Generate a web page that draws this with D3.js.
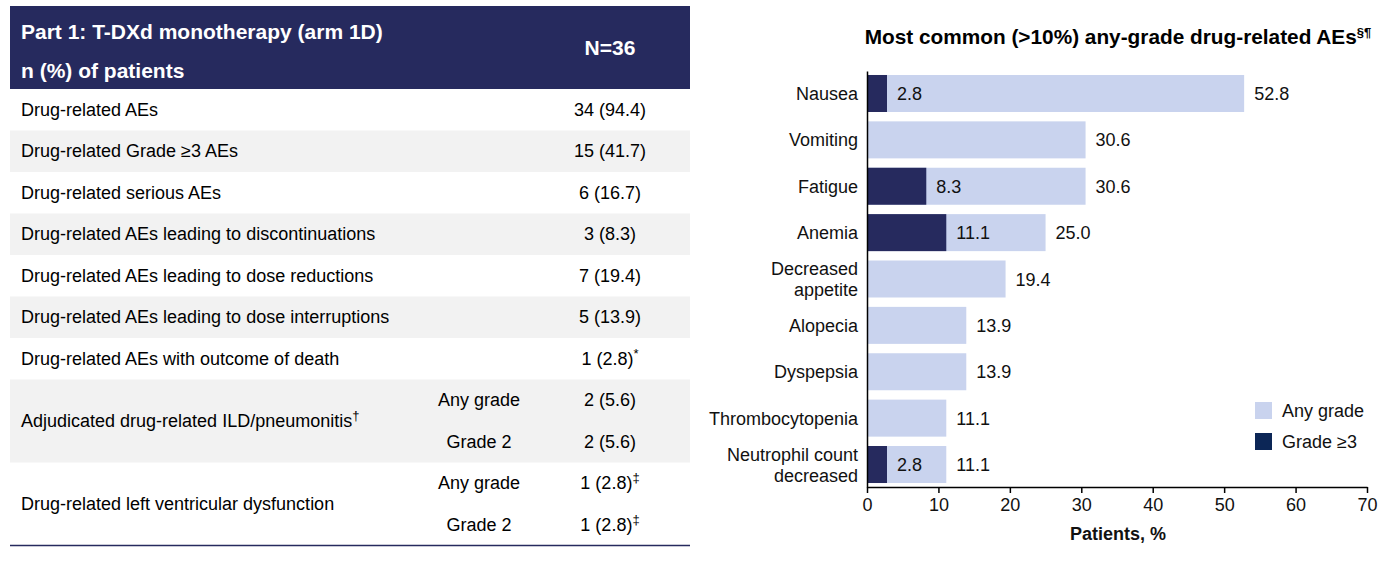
<!DOCTYPE html>
<html>
<head>
<meta charset="utf-8">
<script src="https://cdn.jsdelivr.net/npm/d3@7"></script>
<style>
  html, body { margin: 0; padding: 0; background: #fff; }
  svg { display: block; font-family: "Liberation Sans", Arial, sans-serif; }
</style>
</head>
<body>
<svg id="chart" width="1389" height="562"></svg>
<script>
// ---------- Table data ----------
const tableTitle = ["Part 1: T-DXd monotherapy (arm 1D)", "n (%) of patients"];
const tableN = "N=36";
const rowLabels = [
  "Drug-related AEs",
  "Drug-related Grade ≥3 AEs",
  "Drug-related serious AEs",
  "Drug-related AEs leading to discontinuations",
  "Drug-related AEs leading to dose reductions",
  "Drug-related AEs leading to dose interruptions",
  "Drug-related AEs with outcome of death",
  "Adjudicated drug-related ILD/pneumonitis",
  "Drug-related left ventricular dysfunction"
];
const rowLabelSups = ["", "", "", "", "", "", "", "†", ""];
const rowSubLabels = [[], [], [], [], [], [], [], ["Any grade", "Grade 2"], ["Any grade", "Grade 2"]];
const rowValues = [
  ["34 (94.4)"], ["15 (41.7)"], ["6 (16.7)"], ["3 (8.3)"], ["7 (19.4)"],
  ["5 (13.9)"], ["1 (2.8)"], ["2 (5.6)", "2 (5.6)"], ["1 (2.8)", "1 (2.8)"]
];
const rowValueSups = [[""], [""], [""], [""], [""], [""], ["*"], ["", ""], ["‡", "‡"]];

// ---------- Chart data ----------
const chartTitle = "Most common (>10%) any-grade drug-related AEs";
const chartTitleSup = "§¶";
const categories = ["Nausea", "Vomiting", "Fatigue", "Anemia", "Decreased\nappetite", "Alopecia", "Dyspepsia", "Thrombocytopenia", "Neutrophil count\ndecreased"];
const anyGrade = [52.8, 30.6, 30.6, 25.0, 19.4, 13.9, 13.9, 11.1, 11.1];
const grade3 = [2.8, 0, 8.3, 11.1, 0, 0, 0, 0, 2.8];
const xTicks = [0, 10, 20, 30, 40, 50, 60, 70];
const xLabel = "Patients, %";
const legendLabels = ["Any grade", "Grade ≥3"];

// ---------- Styles ----------
const NAVY = "#262a5e";
const LIGHT = "#c9d3ee";
const LEGEND_DARK = "#0c2656";
const GRAY = "#f2f2f2";

const svg = d3.select("#chart");

// ================= TABLE =================
const tX0 = 10, tX1 = 690, headTop = 6, headBottom = 89, lineH = 41.5;
const labelX = 21, subX = 479, valX = 610;
const bodyFS = 18;
const headFS = 21;

svg.append("rect").attr("x", tX0).attr("y", headTop).attr("width", tX1 - tX0).attr("height", headBottom - headTop).attr("fill", NAVY);
svg.append("text").attr("x", labelX).attr("y", 39).attr("fill", "#fff").attr("font-weight", "bold").attr("font-size", headFS).text(tableTitle[0]);
svg.append("text").attr("x", labelX).attr("y", 78).attr("fill", "#fff").attr("font-weight", "bold").attr("font-size", headFS).text(tableTitle[1]);
svg.append("text").attr("x", valX).attr("y", 55).attr("fill", "#fff").attr("font-weight", "bold").attr("font-size", headFS).attr("text-anchor", "middle").text(tableN);

let yCur = headBottom;
rowLabels.forEach((lab, i) => {
  const nLines = Math.max(1, rowValues[i].length);
  const h = nLines * lineH;
  if (i % 2 === 1) {
    svg.append("rect").attr("x", tX0).attr("y", yCur).attr("width", tX1 - tX0).attr("height", h).attr("fill", GRAY);
  }
  const cy = yCur + h / 2;
  const t = svg.append("text").attr("x", labelX).attr("y", cy + 6).attr("font-size", bodyFS).attr("fill", "#000");
  t.append("tspan").text(lab);
  if (rowLabelSups[i]) t.append("tspan").attr("font-size", 13).attr("dy", -7).text(rowLabelSups[i]);
  for (let k = 0; k < nLines; k++) {
    const ly = yCur + lineH * k + lineH / 2 + 6;
    if (rowSubLabels[i][k]) {
      svg.append("text").attr("x", subX).attr("y", ly).attr("font-size", bodyFS).attr("text-anchor", "middle").attr("fill", "#000").text(rowSubLabels[i][k]);
    }
    const vt = svg.append("text").attr("x", valX).attr("y", ly).attr("font-size", bodyFS).attr("text-anchor", "middle").attr("fill", "#000");
    vt.append("tspan").text(rowValues[i][k]);
    if (rowValueSups[i][k]) vt.append("tspan").attr("font-size", 13).attr("dy", -7).text(rowValueSups[i][k]);
  }
  yCur += h;
});
svg.append("line").attr("x1", tX0).attr("x2", tX1).attr("y1", yCur).attr("y2", yCur).attr("stroke", NAVY).attr("stroke-width", 1.5);

// ================= CHART =================
const x = d3.scaleLinear().domain([0, 70]).range([867, 1367]);
const y = d3.scaleBand().domain(categories).range([71, 487]).paddingInner(0.202).paddingOuter(0.086);

// title
const tt = svg.append("text").attr("x", 1118).attr("y", 44).attr("text-anchor", "middle").attr("font-weight", "bold").attr("font-size", 20.8).attr("fill", "#000");
tt.append("tspan").text(chartTitle);
tt.append("tspan").attr("font-size", 13).attr("dy", -7).text(chartTitleSup);

const data = categories.map((c, i) => ({ cat: c, any: anyGrade[i], g3: grade3[i] }));

// light bars
svg.append("g").selectAll("rect").data(data).join("rect")
  .attr("x", x(0)).attr("y", d => y(d.cat))
  .attr("width", d => x(d.any) - x(0)).attr("height", y.bandwidth())
  .attr("fill", LIGHT);
// dark bars
svg.append("g").selectAll("rect").data(data.filter(d => d.g3 > 0)).join("rect")
  .attr("x", x(0)).attr("y", d => y(d.cat))
  .attr("width", d => x(d.g3) - x(0)).attr("height", y.bandwidth())
  .attr("fill", NAVY);

// value labels
const lblFS = 18;
svg.append("g").selectAll("text").data(data).join("text")
  .attr("x", d => x(d.any) + 10).attr("y", d => y(d.cat) + y.bandwidth() / 2 + 6.5)
  .attr("font-size", lblFS).attr("fill", "#111").text(d => d.any.toFixed(1));
svg.append("g").selectAll("text").data(data.filter(d => d.g3 > 0)).join("text")
  .attr("x", d => x(d.g3) + 10).attr("y", d => y(d.cat) + y.bandwidth() / 2 + 6.5)
  .attr("font-size", lblFS).attr("fill", "#111").text(d => d.g3.toFixed(1));

// y category labels
const yl = svg.append("g").selectAll("text").data(categories).join("text")
  .attr("x", 858).attr("text-anchor", "end").attr("font-size", lblFS).attr("fill", "#111")
  .attr("y", d => y(d) + y.bandwidth() / 2 + 6.5);
yl.each(function (d) {
  const parts = d.split("\n");
  const el = d3.select(this);
  const cy = y(d) + y.bandwidth() / 2;
  if (parts.length === 1) { el.text(d); return; }
  parts.forEach((p, k) => {
    el.append("tspan").attr("x", 858).attr("y", cy + 6.5 + (k - (parts.length - 1) / 2) * 21).text(p);
  });
});

// x axis
const xAxis = d3.axisBottom(x).tickValues(xTicks).tickSize(6).tickSizeOuter(0).tickPadding(5);
const gx = svg.append("g").attr("transform", "translate(0,487)").call(xAxis);
gx.select(".domain").attr("stroke", "#000").attr("stroke-width", 1.5);
gx.selectAll(".tick line").attr("stroke", "#000").attr("stroke-width", 1.5);
gx.selectAll(".tick text").attr("font-size", 18).attr("fill", "#111").attr("font-family", "Liberation Sans, Arial, sans-serif");

// y axis line
const yAxis = d3.axisLeft(y).tickSize(0).tickFormat("").tickSizeOuter(0);
const gy = svg.append("g").attr("transform", "translate(867,0)").call(yAxis);
gy.select(".domain").attr("stroke", "#000").attr("stroke-width", 1.5);

svg.append("text").attr("x", 1118).attr("y", 540).attr("text-anchor", "middle").attr("font-weight", "bold").attr("font-size", 18).attr("fill", "#111").text(xLabel);

// legend
const legColors = [LIGHT, LEGEND_DARK];
legendLabels.forEach((l, i) => {
  const ly = 402 + i * 31;
  svg.append("rect").attr("x", 1255).attr("y", ly).attr("width", 17).attr("height", 17).attr("fill", legColors[i]);
  svg.append("text").attr("x", 1282).attr("y", ly + 8.5 + 6.5).attr("font-size", lblFS).attr("fill", "#111").text(l);
});
</script>
</body>
</html>
